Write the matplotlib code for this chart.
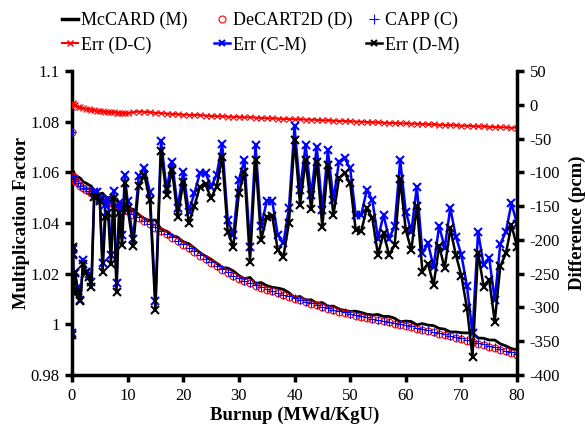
import matplotlib
matplotlib.use("Agg")
import matplotlib.pyplot as plt
from matplotlib.lines import Line2D

plt.rcParams['font.family'] = ['Liberation Serif', 'DejaVu Serif']

burnup = [0, 0.1, 0.2, 0.3, 0.5, 1.0, 1.5, 2.0, 2.5, 3.0, 3.5, 4.0, 4.5, 5.0, 5.5, 6.0,
          6.5, 7.0, 7.5, 8.0, 8.5, 9.0, 9.5, 10] + list(range(11, 81))

k_mccard = [1.0794, 1.0607, 1.0602, 1.0603, 1.0591, 1.0583, 1.0577, 1.0563, 1.0558, 1.0551,
            1.0545, 1.0525, 1.0519, 1.0514, 1.0518, 1.0505, 1.0499, 1.0502, 1.0488, 1.0496,
            1.0480, 1.0478, 1.0463, 1.0461,
            1.0454, 1.0433, 1.0418, 1.0409, 1.0412, 1.0375, 1.0368, 1.0351, 1.0344, 1.0326,
            1.0318, 1.0301, 1.0283, 1.0269, 1.0257, 1.0241, 1.0224, 1.0222, 1.0211, 1.0193,
            1.0180, 1.0185, 1.0161, 1.0165, 1.0153, 1.0146, 1.0143, 1.0138, 1.0125, 1.0106,
            1.0110, 1.0096, 1.0097, 1.0083, 1.0086, 1.0071, 1.0072, 1.0060, 1.0055, 1.0051,
            1.0052, 1.0047, 1.0040, 1.0037, 1.0039, 1.0031, 1.0031, 1.0024, 1.0010, 1.0013,
            1.0011, 0.9998, 1.0003, 0.9997, 0.9995, 0.9984, 0.9981, 0.9970, 0.9970, 0.9967,
            0.9966, 0.9967, 0.9946, 0.9945, 0.9938, 0.9938, 0.9923, 0.9915, 0.9904, 0.9900]

k_decart = [1.0760, 1.0586, 1.0580, 1.0575, 1.0566, 1.0556, 1.0548, 1.0540, 1.0532, 1.0525,
            1.0518, 1.0511, 1.0505, 1.0499, 1.0494, 1.0489, 1.0484, 1.0479, 1.0474, 1.0469,
            1.0464, 1.0458, 1.0452, 1.0446,
            1.0433, 1.0421, 1.0408, 1.0395, 1.0382, 1.0369, 1.0355, 1.0342, 1.0328, 1.0315,
            1.0300, 1.0286, 1.0271, 1.0257, 1.0243, 1.0229, 1.0216, 1.0203, 1.0190, 1.0180,
            1.0170, 1.0162, 1.0153, 1.0145, 1.0137, 1.0130, 1.0122, 1.0115, 1.0108, 1.0101,
            1.0095, 1.0088, 1.0082, 1.0075, 1.0068, 1.0062, 1.0056, 1.0050, 1.0045, 1.0040,
            1.0034, 1.0029, 1.0024, 1.0020, 1.0016, 1.0012, 1.0008, 1.0003, 0.9999, 0.9994,
            0.9989, 0.9983, 0.9978, 0.9973, 0.9968, 0.9963, 0.9957, 0.9952, 0.9947, 0.9942,
            0.9936, 0.9930, 0.9924, 0.9918, 0.9912, 0.9906, 0.9899, 0.9893, 0.9886, 0.9879]

k_capp = [1.0760, 1.0586, 1.0580, 1.0575, 1.0566, 1.0556, 1.0548, 1.0540, 1.0533, 1.0526,
          1.0519, 1.0512, 1.0506, 1.0500, 1.0495, 1.0490, 1.0485, 1.0480, 1.0475, 1.0470,
          1.0465, 1.0459, 1.0453, 1.0447,
          1.0434, 1.0422, 1.0409, 1.0396, 1.0383, 1.0370, 1.0356, 1.0343, 1.0329, 1.0316,
          1.0302, 1.0288, 1.0273, 1.0259, 1.0245, 1.0231, 1.0218, 1.0205, 1.0192, 1.0182,
          1.0172, 1.0164, 1.0155, 1.0147, 1.0139, 1.0132, 1.0124, 1.0117, 1.0110, 1.0103,
          1.0097, 1.0090, 1.0084, 1.0077, 1.0070, 1.0064, 1.0058, 1.0052, 1.0047, 1.0042,
          1.0036, 1.0031, 1.0027, 1.0023, 1.0019, 1.0015, 1.0011, 1.0006, 1.0002, 0.9997,
          0.9992, 0.9986, 0.9981, 0.9976, 0.9971, 0.9966, 0.9960, 0.9955, 0.9950, 0.9945,
          0.9939, 0.9933, 0.9927, 0.9921, 0.9915, 0.9909, 0.9902, 0.9896, 0.9889, 0.9882]

err_dc = [-3, 2, 1, 0, -1, -3, -4, -5, -6, -6.5, -7, -8, -8.5, -9, -9.5, -10, -10.5, -11,
          -11, -11.5, -12, -12, -12.5, -12.5,
          -11, -10, -10.5, -11, -12, -12.5, -13, -13.5, -14, -14.5,
          -15, -15, -15.5, -16, -16.5, -17, -17, -17.5, -18, -18,
          -18.5, -18.5, -19, -19.5, -20, -20, -20.5, -21, -21, -21.5,
          -21.5, -22, -22, -22.5, -23, -23, -23.5, -24, -24, -24.5,
          -25, -25, -25.5, -26, -26, -26.5, -27, -27, -27.5, -27.5,
          -28, -28, -28.5, -29, -29, -29.5, -30, -30, -30.5, -31,
          -31, -31.5, -32, -32, -32.5, -33, -33, -33.5, -34, -34]

err_cm = [-338, -213, -222, -276, -247, -270, -289, -230, -247, -250, -262, -129, -129, -140,
          -234, -148, -140, -222, -127, -264, -145, -193, -104, -143,
          -198, -106, -94, -129, -291, -53, -124, -84, -153, -99,
          -158, -131, -101, -101, -121, -104, -58, -171, -193, -111,
          -82, -210, -60, -180, -143, -143, -193, -205, -153, -32,
          -126, -60, -134, -62, -156, -67, -141, -84, -79, -94,
          -163, -163, -126, -141, -198, -163, -198, -180, -82, -158,
          -188, -121, -220, -205, -240, -179, -212, -153, -195, -222,
          -268, -338, -188, -237, -227, -289, -206, -188, -146, -176]

err_dm = [-341, -211, -221, -279, -249, -275, -291, -235, -249, -255, -269, -136, -136, -143,
          -247, -166, -160, -235, -138, -277, -160, -208, -116, -153,
          -209, -120, -104, -141, -304, -68, -134, -97, -166, -114,
          -175, -150, -121, -118, -138, -121, -77, -188, -210, -131,
          -99, -232, -82, -200, -166, -165, -215, -225, -175, -52,
          -148, -82, -155, -84, -181, -89, -163, -109, -101, -116,
          -185, -187, -153, -168, -222, -190, -222, -208, -110, -185,
          -215, -150, -247, -235, -267, -209, -242, -183, -222, -253,
          -301, -373, -219, -269, -259, -321, -239, -220, -178, -210]

x_ticks = [0, 10, 20, 30, 40, 50, 60, 70, 80]
yl_ticks = [0.98, 1.0, 1.02, 1.04, 1.06, 1.08, 1.1]
yl_labels = ['0.98', '1', '1.02', '1.04', '1.06', '1.08', '1.1']
yr_ticks = [-400, -350, -300, -250, -200, -150, -100, -50, 0, 50]
yr_labels = ['-400', '-350', '-300', '-250', '-200', '-150', '-100', '-50', '0', '50']

fig = plt.figure(figsize=(5.85, 4.30), dpi=100)
ax = fig.add_axes([72/585, 1-375/430, (517-72)/585, (375-71)/430])
ax2 = ax.twinx()

ax.plot(burnup, k_mccard, color='black', lw=2.0, zorder=2)
ax.plot(burnup, k_decart, ls='none', marker='o', ms=5, mfc='none', mec='red', mew=0.8, zorder=3)
ax.plot(burnup, k_capp, ls='none', marker='+', ms=6, color='blue', mew=0.8, zorder=4)

ax2.plot(burnup, err_dc, color='red', lw=1.5, marker='x', ms=4, mew=0.8)
ax2.plot(burnup, err_cm, color='blue', lw=1.8, marker='x', ms=6, mew=1.5)
ax2.plot(burnup, err_dm, color='black', lw=1.8, marker='x', ms=6, mew=1.5)

ax.set_xlim(0, 80)
ax.set_ylim(0.98, 1.1)
ax2.set_ylim(-400, 50)
ax.set_xticks(x_ticks)
ax.set_yticks(yl_ticks)
ax.set_yticklabels(yl_labels)
ax2.set_yticks(yr_ticks)
ax2.set_yticklabels(yr_labels)

for a in (ax, ax2):
    a.spines['top'].set_visible(False)
    for s in ('left', 'right', 'bottom'):
        a.spines[s].set_linewidth(2.5)
    a.tick_params(direction='out', length=5, width=2.5, labelsize=12, pad=4)
ax.spines['right'].set_visible(False)
ax2.spines['left'].set_visible(False)
ax2.spines['bottom'].set_visible(False)

ax.set_xlabel('Burnup (MWd/KgU)', fontsize=13.5, fontweight='bold', labelpad=2)
ax.set_ylabel('Multiplication Factor', fontsize=13.5, fontweight='bold', labelpad=0)
ax2.set_ylabel('Difference (pcm)', fontsize=13.5, fontweight='bold', labelpad=6)

h_m = Line2D([], [], color='black', lw=2.5)
h_d = Line2D([], [], ls='none', marker='o', ms=5, mfc='none', mec='red', mew=0.8)
h_c = Line2D([], [], ls='none', marker='+', ms=7, color='blue', mew=0.8)
h_dc = Line2D([], [], color='red', lw=1.5, marker='x', ms=5, mew=1)
h_cm = Line2D([], [], color='blue', lw=1.8, marker='x', ms=5, mew=1.5)
h_dm = Line2D([], [], color='black', lw=1.8, marker='x', ms=5, mew=1.5)

cols = [([h_m, h_dc], ['McCARD (M)', 'Err (D-C)'], 62),
        ([h_d, h_cm], ['DeCART2D (D)', 'Err (C-M)'], 214),
        ([h_c, h_dm], ['CAPP (C)', 'Err (D-M)'], 366)]
for hs, ls, xp in cols:
    leg = fig.legend(hs, ls, loc='upper left', bbox_to_anchor=(xp/585, 1-12/430),
                     frameon=False, fontsize=13, handlelength=0.9, handletextpad=0.15,
                     borderpad=0, borderaxespad=0, labelspacing=0.4)

fig.savefig('out.png', dpi=100)
